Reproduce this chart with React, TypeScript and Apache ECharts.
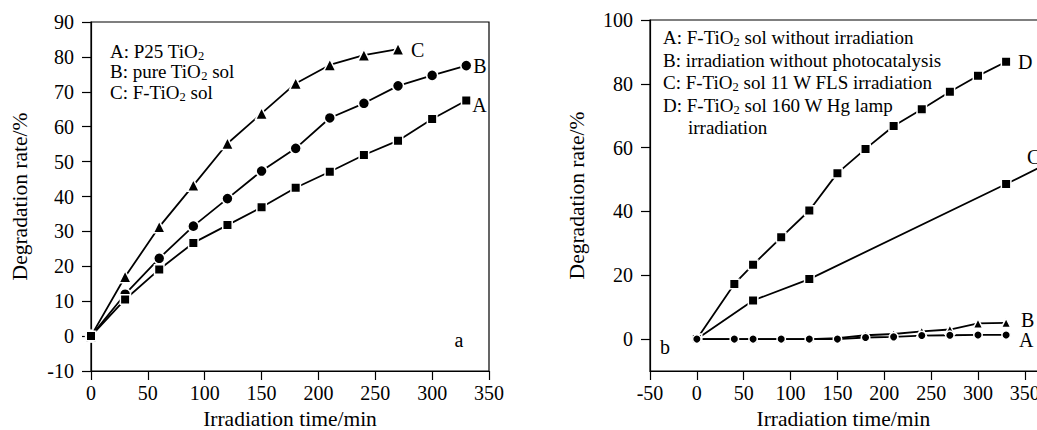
import React, { useEffect, useRef } from "react";
import * as echarts from "echarts";

// ---- Data: panel a ----
const xLeft = [0, 30, 60, 90, 120, 150, 180, 210, 240, 270, 300, 330];
const leftA = [0, 10.5, 19.1, 26.7, 31.8, 36.9, 42.5, 47.1, 51.9, 56.0, 62.2, 67.5];
const leftB = [0, 12.0, 22.3, 31.5, 39.4, 47.3, 53.8, 62.5, 66.7, 71.7, 74.7, 77.5];
const xLeftC = [0, 30, 60, 90, 120, 150, 180, 210, 240, 270];
const leftC = [0, 17.0, 31.3, 43.2, 55.2, 63.8, 72.4, 77.7, 80.5, 82.2];

// ---- Data: panel b ----
const xRight = [0, 40, 60, 90, 120, 150, 180, 210, 240, 270, 300, 330];
const rightA = [0, 0, 0, 0, 0, 0, 0.5, 0.7, 1.1, 1.2, 1.3, 1.3];
const rightB = [0, 0, 0, 0, 0, 0.3, 1.2, 1.6, 2.4, 3.0, 4.9, 5.1];
const xRightC = [0, 60, 120, 330, 364];
const rightC = [0, 12.1, 18.8, 48.6, 53.5];
const rightD = [0, 17.3, 23.3, 31.9, 40.3, 52.0, 59.6, 66.8, 72.0, 77.5, 82.5, 86.9];

const rightYTicks = [0, 20, 40, 60, 80, 100];

const FONT = "'Liberation Serif', 'Times New Roman', serif";
const BLACK = "#000";

const pairs = (xs: number[], ys: number[]) => xs.map((x, i) => [x, ys[i]]);

function App() {
  const ref = useRef<HTMLDivElement>(null);

  useEffect(() => {
    if (!ref.current) return;
    const chart = echarts.init(ref.current, undefined, { renderer: "svg" });

    const axisCommon = {
      type: "value" as const,
      axisLine: { show: true, onZero: false, lineStyle: { color: BLACK, width: 1.2 } },
      axisTick: { show: true, inside: false, length: 9, lineStyle: { color: BLACK, width: 1.2 } },
      splitLine: { show: false },
      nameLocation: "middle" as const,
    };
    const labelStyle = { fontSize: 20, fontFamily: FONT, color: BLACK };
    const nameStyle = { fontSize: 21.5, fontFamily: FONT, color: BLACK };

    const lineSeries = (
      xi: number,
      data: any[],
      symbol: string,
      size: number,
      label: string,
      dist: number,
      off: number[]
    ) => ({
      type: "line",
      xAxisIndex: xi,
      yAxisIndex: xi,
      data,
      symbol,
      symbolSize: size,
      showAllSymbol: true,
      lineStyle: { color: BLACK, width: 1.8 },
      itemStyle: { color: BLACK, borderColor: "#fff", borderWidth: 1.5 },
      endLabel: {
        show: true,
        formatter: label,
        distance: dist,
        offset: off,
        fontSize: 20,
        fontFamily: FONT,
        color: BLACK,
      },
      emphasis: { disabled: true },
    });

    const rich = {
      t: { fontSize: 19, fontFamily: FONT, color: BLACK, lineHeight: 22, verticalAlign: "middle" },
      s: { fontSize: 12.5, fontFamily: FONT, color: BLACK, lineHeight: 11, verticalAlign: "bottom" },
    };
    const legendText = (x: number, y: number, text: string) => ({
      type: "text",
      x,
      y,
      silent: true,
      style: { text, rich, verticalAlign: "middle", align: "left", fill: BLACK },
    });

    const rightCData: any[] = pairs(xRightC, rightC);
    rightCData[rightCData.length - 1] = {
      value: rightCData[rightCData.length - 1],
      symbol: "none",
    };

    chart.setOption({
      animation: false,
      grid: [
        { left: 91, top: 22, width: 398, height: 349, show: true, borderColor: BLACK, borderWidth: 1.2, backgroundColor: "transparent", outerBoundsMode: "none", containLabel: false },
        { left: 650, top: 20, width: 421.7, height: 351, show: true, borderColor: BLACK, borderWidth: 1.2, backgroundColor: "transparent", outerBoundsMode: "none", containLabel: false },
      ],
      xAxis: [
        {
          ...axisCommon,
          gridIndex: 0,
          min: 0,
          max: 350,
          interval: 50,
          axisLabel: { ...labelStyle, margin: 12 },
          name: "Irradiation time/min",
          nameGap: 35,
          nameTextStyle: nameStyle,
        },
        {
          ...axisCommon,
          gridIndex: 1,
          min: -50,
          max: 400,
          interval: 50,
          axisLabel: { ...labelStyle, margin: 12, showMaxLabel: false },
          name: "Irradiation time/min",
          nameGap: 35,
          nameTextStyle: { ...nameStyle, padding: [0, 35, 0, 0] },
        },
      ],
      yAxis: [
        {
          ...axisCommon,
          gridIndex: 0,
          min: -10,
          max: 90,
          interval: 10,
          axisLabel: { ...labelStyle, margin: 17 },
          name: "Degradation rate/%",
          nameGap: 60,
          nameTextStyle: nameStyle,
        },
        {
          ...axisCommon,
          gridIndex: 1,
          min: -10,
          max: 100,
          axisLabel: { ...labelStyle, margin: 17, customValues: rightYTicks },
          axisTick: { ...axisCommon.axisTick, customValues: rightYTicks },
          name: "Degradation rate/%",
          nameGap: 62,
          nameTextStyle: nameStyle,
        },
      ],
      series: [
        lineSeries(0, pairs(xLeftC, leftC), "triangle", 12, "C", 13, [0, 1]),
        lineSeries(0, pairs(xLeft, leftB), "circle", 11, "B", 7, [0, 0]),
        lineSeries(0, pairs(xLeft, leftA), "rect", 9.5, "A", 6, [0, 4]),
        lineSeries(1, pairs(xRight, rightD), "rect", 9.5, "D", 12, [0, 0]),
        lineSeries(1, rightCData, "rect", 9.5, "C", 0, [-11, -11]),
        lineSeries(1, pairs(xRight, rightB), "triangle", 9.5, "B", 15, [0, -3]),
        lineSeries(1, pairs(xRight, rightA), "circle", 8.5, "A", 13, [0, 5]),
      ],
      graphic: [
        legendText(110, 51, "{t|A: P25 TiO}{s|2}"),
        legendText(110, 71, "{t|B: pure TiO}{s|2}{t| sol}"),
        legendText(110, 92, "{t|C: F-TiO}{s|2}{t| sol}"),
        legendText(663, 37, "{t|A: F-TiO}{s|2}{t| sol without irradiation}"),
        legendText(663, 60, "{t|B: irradiation without photocatalysis}"),
        legendText(663, 82, "{t|C: F-TiO}{s|2}{t| sol 11 W FLS irradiation}"),
        legendText(663, 105, "{t|D: F-TiO}{s|2}{t| sol 160 W Hg lamp}"),
        legendText(688, 127, "{t|irradiation}"),
        {
          type: "text",
          x: 459,
          y: 340,
          silent: true,
          style: { text: "a", fontSize: 20, fontFamily: FONT, fill: BLACK, align: "center", verticalAlign: "middle" },
        },
        {
          type: "text",
          x: 665,
          y: 347,
          silent: true,
          style: { text: "b", fontSize: 20, fontFamily: FONT, fill: BLACK, align: "center", verticalAlign: "middle" },
        },
      ],
    });

    return () => chart.dispose();
  }, []);

  return (
    <div
      ref={ref}
      style={{ position: "fixed", left: 0, top: 0, width: 1037, height: 430, background: "#fff" }}
    />
  );
}

export default App;
